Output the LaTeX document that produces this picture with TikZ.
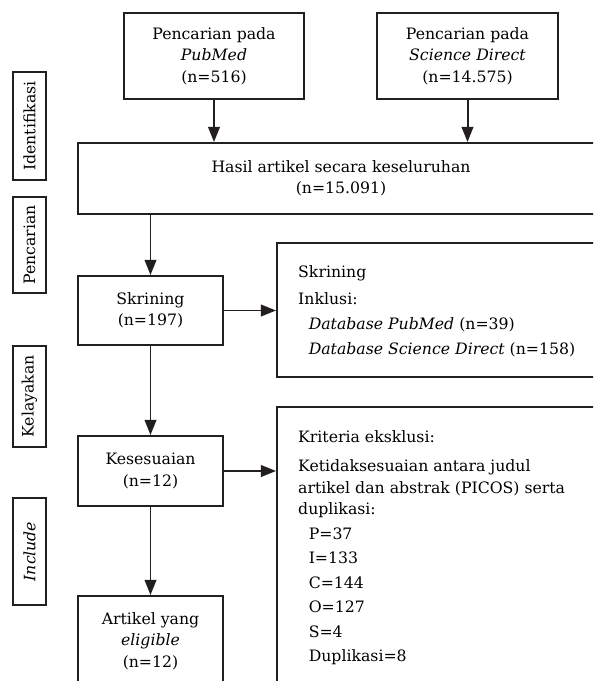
\documentclass[tikz,border=0pt]{standalone}
\usepackage{fontspec}
\setmainfont{DejaVu Serif}
\usetikzlibrary{arrows.meta}
\definecolor{ink}{HTML}{231F20}
\def\unitpx{0.03cm}

\begin{document}
\begin{tikzpicture}[x=0.03cm,y=-0.03cm,>={Triangle[length=13pt,width=10pt]},
  font=\fontsize{13.4}{18.3}\selectfont,
  box/.style={draw=ink,line width=1.7pt,align=center,inner sep=0pt},
  tag/.style={draw=ink,line width=1.1pt,rotate=90,inner sep=0pt,minimum height=33*\unitpx},
  list/.style={align=left,inner sep=0pt,anchor=north west},
  flow/.style={->,draw=ink,line width=1.7pt}]
  \useasboundingbox(0,0)rectangle(593,681);
  \clip(0,0)rectangle(593,681);
  \node[tag,minimum width=108*\unitpx](tagid)at(29.5,126){Identifikasi};
  \node[tag,minimum width=96*\unitpx](tagsearch)at(29.5,245){Pencarian};
  \node[tag,minimum width=101*\unitpx](tagelig)at(29.5,396.5){Kelayakan};
  \node[tag,minimum width=107*\unitpx](taginc)at(29.5,551.5){\textit{Include}};

  \node[box,minimum width=180*\unitpx,minimum height=86*\unitpx](pubmed)at(214,56)
    {Pencarian pada\\\textit{PubMed}\\(n=516)};
  \node[box,minimum width=181*\unitpx,minimum height=86*\unitpx](scidir)at(467.5,56)
    {Pencarian pada\\\textit{Science Direct}\\(n=14.575)};
  \node[box,minimum width=526*\unitpx,minimum height=71*\unitpx](hasil)at(341,178.5)
    {Hasil artikel secara keseluruhan\\(n=15.091)};
  \node[box,minimum width=145*\unitpx,minimum height=69*\unitpx](skrin)at(150.5,310.5)
    {Skrining\\(n=197)};
  \node[box,minimum width=145*\unitpx,minimum height=70*\unitpx](sesuai)at(150.5,471)
    {Kesesuaian\\(n=12)};
  \node[box,minimum width=145*\unitpx,minimum height=90*\unitpx](eligible)at(150.5,641)
    {Artikel yang\\\textit{eligible}\\(n=12)};
  \node[box,minimum width=343*\unitpx,minimum height=134*\unitpx](inklusi)at(448.5,310){};
  \node[box,minimum width=343*\unitpx,minimum height=313*\unitpx](eksklusi)at(448.5,563.5){};

  \node[list](inkltext)at(298,265){Skrining\\[5pt]Inklusi:\\[3pt]
    \hspace*{9pt}\textit{Database PubMed} (n=39)\\[3pt]
    \hspace*{9pt}\textit{Database Science Direct} (n=158)};
  \node[list](eksktext)at(298,430){Kriteria eksklusi:\\[7pt]
    Ketidaksesuaian antara judul\\artikel dan abstrak (PICOS) serta\\duplikasi:\\[2.5pt]
    \hspace*{9pt}P=37\\[2.6pt]\hspace*{9pt}I=133\\[2.6pt]\hspace*{9pt}C=144\\[2.6pt]
    \hspace*{9pt}O=127\\[2.6pt]\hspace*{9pt}S=4\\[2.6pt]\hspace*{9pt}Duplikasi=8};

  \draw[flow](pubmed.south)--(pubmed.south|-hasil.north);
  \draw[flow](scidir.south)--(scidir.south|-hasil.north);
  \draw[flow](hasil.south-|skrin.north)--(skrin.north);
  \draw[flow](skrin.south)--(sesuai.north);
  \draw[flow](sesuai.south)--(eligible.north);
  \draw[flow](skrin.east)--(skrin.east-|inklusi.west);
  \draw[flow](sesuai.east)--(sesuai.east-|eksklusi.west);
\end{tikzpicture}
\end{document}
